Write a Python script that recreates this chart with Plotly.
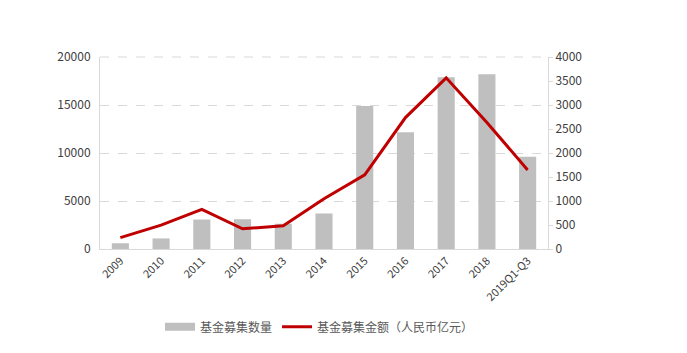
import plotly.graph_objects as go

categories = ["2009", "2010", "2011", "2012", "2013", "2014", "2015", "2016", "2017", "2018", "2019Q1-Q3"]
fund_count = [600, 1100, 3070, 3100, 2630, 3700, 14900, 12170, 17900, 18200, 9600]
fund_amount = [236, 496, 827, 422, 484, 1049, 1545, 2738, 3566, 2635, 1648]

FONT = "Microsoft YaHei, Noto Sans CJK SC, sans-serif"
BAR_COLOR = "#BFBFBF"
LINE_COLOR = "#C00000"
GRID = "#D9D9D9"

fig = go.Figure()
fig.add_trace(go.Bar(
    x=categories, y=fund_count, name="基金募集数量",
    marker=dict(color=BAR_COLOR, line=dict(width=0)),
    yaxis="y", showlegend=False,
))
# legend proxy for the bar series (wide rectangle swatch)
fig.add_trace(go.Scatter(
    x=[None], y=[None], name="基金募集数量", mode="lines",
    line=dict(color=BAR_COLOR, width=8), yaxis="y",
))
fig.add_trace(go.Scatter(
    x=categories, y=fund_amount, name="基金募集金额（人民币亿元）",
    mode="lines", line=dict(color=LINE_COLOR, width=3),
    yaxis="y2",
))

# top dashed gridline at the axis maximum (plotly skips the edge gridline)
fig.add_shape(type="line", xref="x domain", yref="y domain", x0=0, x1=1, y0=1, y1=1,
              line=dict(color=GRID, width=1, dash="dash"), layer="below")

fig.update_layout(
    width=687, height=353,
    margin=dict(l=100, r=139, t=57, b=102),
    paper_bgcolor="white", plot_bgcolor="white",
    font=dict(family=FONT, size=12, color="#404040"),
    bargap=0.58,
    showlegend=True,
    legend=dict(orientation="h", x=0.49, xanchor="center", y=-0.33, yanchor="top",
                font=dict(size=12, color="#595959"), itemwidth=30, tracegroupgap=0),
    xaxis=dict(
        type="category", tickangle=-45, tickfont=dict(size=11, color="#404040"),
        showline=True, linecolor=GRID, linewidth=1, ticks="", showgrid=False,
        automargin=False,
    ),
    yaxis=dict(
        range=[0, 20000], tickvals=[0, 5000, 10000, 15000, 20000], tickformat="d",
        showline=True, linecolor=GRID, linewidth=1,
        showgrid=True, gridcolor=GRID, griddash="dash", gridwidth=1,
        zeroline=False, ticks="", tickfont=dict(size=12, color="#404040"),
        ticklabelstandoff=6, automargin=False,
    ),
    yaxis2=dict(
        range=[0, 4000], tickvals=[0, 500, 1000, 1500, 2000, 2500, 3000, 3500, 4000],
        tickformat="d", overlaying="y", side="right",
        showline=True, linecolor=GRID, linewidth=1,
        showgrid=False, zeroline=False, ticks="outside", ticklen=4, tickcolor=GRID,
        tickfont=dict(size=12, color="#404040"), automargin=False,
    ),
)

fig.write_html("out.html")
